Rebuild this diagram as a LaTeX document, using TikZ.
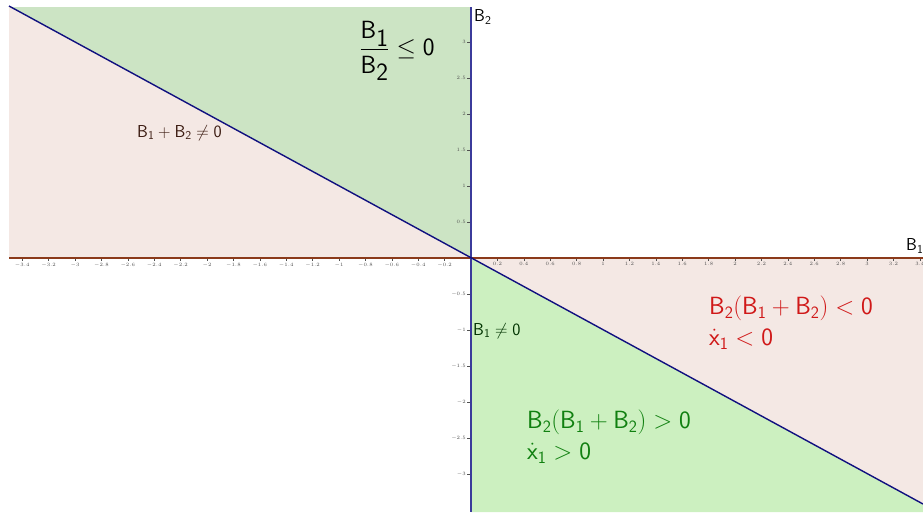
\documentclass[tikz,border=0pt]{standalone}
\usepackage{amsmath}
\newcommand\Bsb[1]{\mathsf{B}_{\mathsf{#1}}}
\newcommand\Zr{\mathsf{0}}
\definecolor{topgreen}{HTML}{CCE4C4}
\definecolor{botgreen}{HTML}{CCF0C0}
\definecolor{pinkreg}{HTML}{F4E8E4}
\definecolor{xaxisc}{HTML}{8B3A1A}
\definecolor{yaxisc}{HTML}{3B3B9B}
\definecolor{linec}{HTML}{10107F}
\definecolor{redtxt}{HTML}{D01818}
\definecolor{greentxt}{HTML}{108010}
\definecolor{browntxt}{HTML}{3A1A10}
\definecolor{ticktxt}{HTML}{505050}
\tikzset{
  bigtxt/.style={font=\fontsize{26.5}{31}\selectfont, inner sep=0pt, align=left},
  fractxt/.style={font=\fontsize{33}{36}\selectfont, inner sep=0pt},
  midtxt/.style={font=\fontsize{17.5}{20}\selectfont, inner sep=0pt},
  ticklab/.style={font=\fontsize{3.6}{4}\selectfont, text=ticktxt, inner sep=0pt},
}
\begin{document}
\begin{tikzpicture}[x=1pt,y=-1pt]
\useasboundingbox (0,0) rectangle (923,512);
\fill[white] (0,0) rectangle (923,512);
% key points
\coordinate (O) at (471,258);
\coordinate (L) at (9,6);
\coordinate (R) at (923,504);
\coordinate (xl) at (9,258);
\coordinate (xr) at (923,258);
\coordinate (yt) at (471,7);
\coordinate (yb) at (471,512);
% regions
\fill[topgreen] (9,7) -- (471,7) -- (O) -- (L) -- cycle;
\fill[pinkreg] (L) -- (O) -- (xl) -- cycle;
\fill[botgreen] (O) -- (R) -- (923,512) -- (yb) -- cycle;
\fill[pinkreg] (O) -- (xr) -- (R) -- cycle;
% ticks x
\foreach \i in {-17,...,-1,1,2,...,17}{
  \pgfmathsetmacro\xx{471+26.4*\i}
  \pgfmathsetmacro\lab{0.2*\i}
  \draw[ticktxt, line width=0.3pt] (\xx,258) -- (\xx,261);
  \node[ticklab, anchor=north] (xt\i) at (\xx,262.5) {\pgfmathprintnumber[fixed,precision=1]{\lab}};
}
% ticks y
\foreach \j in {-6,...,-1,1,2,...,6}{
  \pgfmathsetmacro\yy{258-36*\j}
  \pgfmathsetmacro\lab{0.5*\j}
  \draw[ticktxt, line width=0.3pt] (471,\yy) -- (467,\yy);
  \node[ticklab, anchor=east] (yt\j) at (466,\yy) {\pgfmathprintnumber[fixed,precision=1]{\lab}};
}
% axes
\draw[xaxisc, line width=1.2pt] (xl) -- (xr);
\draw[yaxisc, line width=2pt] (yt) -- (yb);
% line B1+B2=0
\draw[linec, line width=1.4pt] (L) -- (R);
% labels
\node[midtxt, anchor=west] (lB2) at (474,17) {$\Bsb{2}$};
\node[midtxt, anchor=west] (lB1) at (906,246) {$\Bsb{1}$};
\node[fractxt] (frac) at (397,51) {$\displaystyle\frac{\Bsb{1}}{\Bsb{2}}\leq\Zr$};
\node[midtxt, anchor=west, text=browntxt] (sumne) at (137,133) {$\Bsb{1}+\Bsb{2}\neq\Zr$};
\node[midtxt, anchor=west, text=black!80!green] (b1ne) at (473,331) {$\Bsb{1}\neq\Zr$};
\node[bigtxt, anchor=north west, text=redtxt] (redl) at (709,296) {$\Bsb{2}(\Bsb{1}+\Bsb{2})<\Zr$\\$\dot{\mathsf{x}}_{\mathsf{1}}<\Zr$};
\node[bigtxt, anchor=north west, text=greentxt] (grnl) at (527,410) {$\Bsb{2}(\Bsb{1}+\Bsb{2})>\Zr$\\$\dot{\mathsf{x}}_{\mathsf{1}}>\Zr$};
\end{tikzpicture}
\end{document}
